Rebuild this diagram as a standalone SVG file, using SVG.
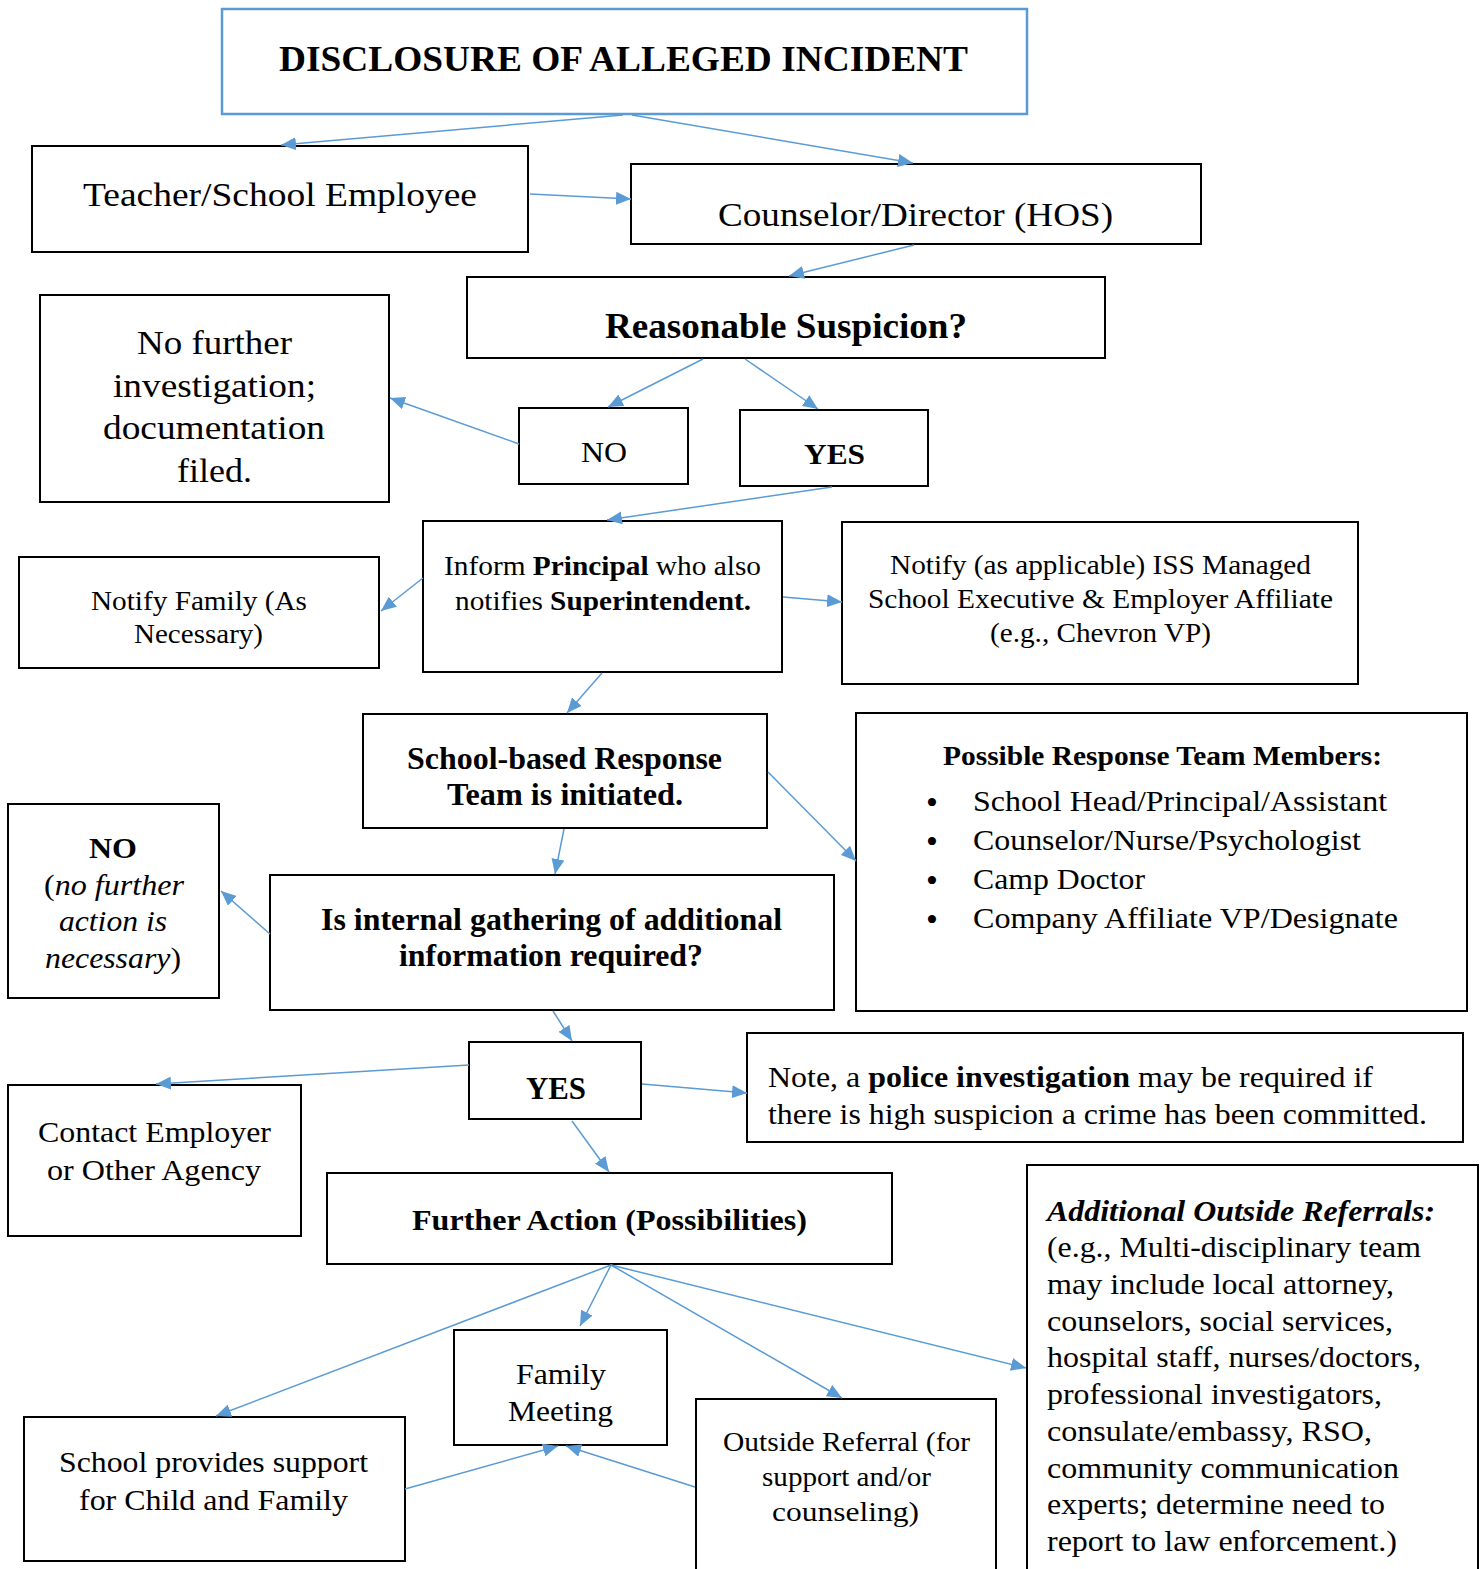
<svg xmlns="http://www.w3.org/2000/svg" width="1483" height="1569" viewBox="0 0 1483 1569" font-family="'Liberation Serif', 'Times New Roman', Tinos, serif">
<style>
.box{fill:#fff;stroke:#000;stroke-width:2}
.tb{fill:#fff;stroke:#5B9BD5;stroke-width:2.5}
text{font-family:"Liberation Serif","Times New Roman",Tinos,serif;fill:#000}
.b{font-weight:bold}
.i{font-style:italic}
.n{font-style:normal}
.bul{font-size:34px}
.c line{stroke:#5B9BD5;stroke-width:1.5;marker-end:url(#ah)}
</style>
<defs>
<marker id="ah" markerUnits="userSpaceOnUse" markerWidth="16" markerHeight="13" refX="15" refY="6.5" orient="auto">
<path d="M0,0 L15,6.5 L0,13 z" fill="#5B9BD5"/>
</marker>
</defs>
<rect width="1483" height="1569" fill="#fff"/>

<g id="n-title"><rect class="tb" x="222" y="9" width="805" height="105"/>
<text class="b" x="279" y="71" font-size="36" textLength="689" lengthAdjust="spacingAndGlyphs">DISCLOSURE OF ALLEGED INCIDENT</text></g>

<g id="n-teacher"><rect class="box" x="32" y="146" width="496" height="106"/>
<text x="83" y="206" font-size="34" textLength="394" lengthAdjust="spacingAndGlyphs">Teacher/School Employee</text></g>

<g id="n-counselor"><rect class="box" x="631" y="164" width="570" height="80"/>
<text x="718" y="226" font-size="34" textLength="395" lengthAdjust="spacingAndGlyphs">Counselor/Director (HOS)</text></g>

<g id="n-reasonable"><rect class="box" x="467" y="277" width="638" height="81"/>
<text class="b" x="605" y="338" font-size="35" textLength="362" lengthAdjust="spacingAndGlyphs">Reasonable Suspicion?</text></g>

<g id="n-nofurther"><rect class="box" x="40" y="295" width="349" height="207"/>
<text x="137" y="354" font-size="33" textLength="155" lengthAdjust="spacingAndGlyphs">No further</text>
<text x="113" y="397" font-size="33" textLength="203" lengthAdjust="spacingAndGlyphs">investigation;</text>
<text x="103" y="439" font-size="33" textLength="222" lengthAdjust="spacingAndGlyphs">documentation</text>
<text x="177" y="482" font-size="33" textLength="75" lengthAdjust="spacingAndGlyphs">filed.</text></g>

<g id="n-no1"><rect class="box" x="519" y="408" width="169" height="76"/>
<text x="581" y="462" font-size="30" textLength="46" lengthAdjust="spacingAndGlyphs">NO</text></g>

<g id="n-yes1"><rect class="box" x="740" y="410" width="188" height="76"/>
<text class="b" x="804" y="464" font-size="30" textLength="61" lengthAdjust="spacingAndGlyphs">YES</text></g>

<g id="n-inform"><rect class="box" x="423" y="521" width="359" height="151"/>
<text x="444" y="575" font-size="27" textLength="317" lengthAdjust="spacingAndGlyphs">Inform <tspan class="b">Principal</tspan> who also</text>
<text x="455" y="610" font-size="27" textLength="296" lengthAdjust="spacingAndGlyphs">notifies <tspan class="b">Superintendent.</tspan></text></g>

<g id="n-notifyfamily"><rect class="box" x="19" y="557" width="360" height="111"/>
<text x="91" y="610" font-size="27" textLength="216" lengthAdjust="spacingAndGlyphs">Notify Family (As</text>
<text x="134" y="643" font-size="27" textLength="129" lengthAdjust="spacingAndGlyphs">Necessary)</text></g>

<g id="n-iss"><rect class="box" x="842" y="522" width="516" height="162"/>
<text x="890" y="574" font-size="27" textLength="421" lengthAdjust="spacingAndGlyphs">Notify (as applicable) ISS Managed</text>
<text x="868" y="608" font-size="27" textLength="465" lengthAdjust="spacingAndGlyphs">School Executive &amp; Employer Affiliate</text>
<text x="990" y="642" font-size="27" textLength="221" lengthAdjust="spacingAndGlyphs">(e.g., Chevron VP)</text></g>

<g id="n-schoolbased"><rect class="box" x="363" y="714" width="404" height="114"/>
<text class="b" x="407" y="769" font-size="31" textLength="315" lengthAdjust="spacingAndGlyphs">School-based Response</text>
<text class="b" x="447" y="805" font-size="31" textLength="236" lengthAdjust="spacingAndGlyphs">Team is initiated.</text></g>

<g id="n-members"><rect class="box" x="856" y="713" width="611" height="298"/>
<text class="b" x="943" y="765" font-size="27" textLength="439" lengthAdjust="spacingAndGlyphs">Possible Response Team Members:</text>
<text class="bul" x="932" y="814" text-anchor="middle">•</text>
<text x="973" y="811" font-size="29" textLength="414" lengthAdjust="spacingAndGlyphs">School Head/Principal/Assistant</text>
<text class="bul" x="932" y="853" text-anchor="middle">•</text>
<text x="973" y="850" font-size="29" textLength="388" lengthAdjust="spacingAndGlyphs">Counselor/Nurse/Psychologist</text>
<text class="bul" x="932" y="892" text-anchor="middle">•</text>
<text x="973" y="889" font-size="29" textLength="172" lengthAdjust="spacingAndGlyphs">Camp Doctor</text>
<text class="bul" x="932" y="931" text-anchor="middle">•</text>
<text x="973" y="928" font-size="29" textLength="425" lengthAdjust="spacingAndGlyphs">Company Affiliate VP/Designate</text></g>

<g id="n-no2"><rect class="box" x="8" y="804" width="211" height="194"/>
<text class="b" x="89" y="858" font-size="30" textLength="48" lengthAdjust="spacingAndGlyphs">NO</text>
<text class="i" x="44" y="895" font-size="30" textLength="140" lengthAdjust="spacingAndGlyphs"><tspan class="n">(</tspan>no further</text>
<text class="i" x="59" y="931" font-size="30" textLength="108" lengthAdjust="spacingAndGlyphs">action is</text>
<text class="i" x="45" y="968" font-size="30" textLength="136" lengthAdjust="spacingAndGlyphs">necessary<tspan class="n">)</tspan></text></g>

<g id="n-internal"><rect class="box" x="270" y="875" width="564" height="135"/>
<text class="b" x="321" y="930" font-size="31" textLength="461" lengthAdjust="spacingAndGlyphs">Is internal gathering of additional</text>
<text class="b" x="399" y="966" font-size="31" textLength="304" lengthAdjust="spacingAndGlyphs">information required?</text></g>

<g id="n-yes2"><rect class="box" x="469" y="1042" width="172" height="77"/>
<text class="b" x="526" y="1099" font-size="31" textLength="60" lengthAdjust="spacingAndGlyphs">YES</text></g>

<g id="n-contact"><rect class="box" x="8" y="1085" width="293" height="151"/>
<text x="38" y="1142" font-size="29" textLength="233" lengthAdjust="spacingAndGlyphs">Contact Employer</text>
<text x="47" y="1180" font-size="29" textLength="214" lengthAdjust="spacingAndGlyphs">or Other Agency</text></g>

<g id="n-note"><rect class="box" x="747" y="1033" width="716" height="109"/>
<text x="768" y="1087" font-size="29" textLength="605" lengthAdjust="spacingAndGlyphs">Note, a <tspan class="b">police investigation</tspan> may be required if</text>
<text x="768" y="1124" font-size="29" textLength="659" lengthAdjust="spacingAndGlyphs">there is high suspicion a crime has been committed.</text></g>

<g id="n-further"><rect class="box" x="327" y="1173" width="565" height="91"/>
<text class="b" x="412" y="1230" font-size="29" textLength="395" lengthAdjust="spacingAndGlyphs">Further Action (Possibilities)</text></g>

<g id="n-additional"><rect class="box" x="1027" y="1165" width="451" height="420"/>
<text class="b i" x="1047" y="1221" font-size="29" textLength="388" lengthAdjust="spacingAndGlyphs">Additional Outside Referrals:</text>
<text x="1047" y="1257" font-size="29" textLength="374" lengthAdjust="spacingAndGlyphs">(e.g., Multi-disciplinary team</text>
<text x="1047" y="1294" font-size="29" textLength="347" lengthAdjust="spacingAndGlyphs">may include local attorney,</text>
<text x="1047" y="1331" font-size="29" textLength="346" lengthAdjust="spacingAndGlyphs">counselors, social services,</text>
<text x="1047" y="1367" font-size="29" textLength="374" lengthAdjust="spacingAndGlyphs">hospital staff, nurses/doctors,</text>
<text x="1047" y="1404" font-size="29" textLength="335" lengthAdjust="spacingAndGlyphs">professional investigators,</text>
<text x="1047" y="1441" font-size="29" textLength="325" lengthAdjust="spacingAndGlyphs">consulate/embassy, RSO,</text>
<text x="1047" y="1478" font-size="29" textLength="352" lengthAdjust="spacingAndGlyphs">community communication</text>
<text x="1047" y="1514" font-size="29" textLength="338" lengthAdjust="spacingAndGlyphs">experts; determine need to</text>
<text x="1047" y="1551" font-size="29" textLength="350" lengthAdjust="spacingAndGlyphs">report to law enforcement.)</text></g>

<g id="n-familymeeting"><rect class="box" x="454" y="1330" width="213" height="115"/>
<text x="516" y="1384" font-size="29" textLength="90" lengthAdjust="spacingAndGlyphs">Family</text>
<text x="508" y="1421" font-size="29" textLength="105" lengthAdjust="spacingAndGlyphs">Meeting</text></g>

<g id="n-schoolprovides"><rect class="box" x="24" y="1417" width="381" height="144"/>
<text x="59" y="1472" font-size="29" textLength="309" lengthAdjust="spacingAndGlyphs">School provides support</text>
<text x="79" y="1510" font-size="29" textLength="269" lengthAdjust="spacingAndGlyphs">for Child and Family</text></g>

<g id="n-outside"><rect class="box" x="696" y="1399" width="300" height="200"/>
<text x="723" y="1451" font-size="27" textLength="247" lengthAdjust="spacingAndGlyphs">Outside Referral (for</text>
<text x="762" y="1486" font-size="27" textLength="169" lengthAdjust="spacingAndGlyphs">support and/or</text>
<text x="772" y="1521" font-size="27" textLength="147" lengthAdjust="spacingAndGlyphs">counseling)</text></g>

<g id="connectors" class="c">
<line x1="623" y1="115" x2="281" y2="145"/>
<line x1="632" y1="115" x2="913" y2="163"/>
<line x1="530" y1="194" x2="631" y2="199"/>
<line x1="914" y1="245" x2="789" y2="276"/>
<line x1="703" y1="359" x2="608" y2="407"/>
<line x1="745" y1="359" x2="818" y2="409"/>
<line x1="519" y1="444" x2="390" y2="398"/>
<line x1="832" y1="487" x2="607" y2="520"/>
<line x1="423" y1="578" x2="381" y2="611"/>
<line x1="783" y1="597" x2="842" y2="602"/>
<line x1="602" y1="673" x2="567" y2="713"/>
<line x1="768" y1="772" x2="856" y2="861"/>
<line x1="564" y1="829" x2="555" y2="874"/>
<line x1="270" y1="934" x2="221" y2="891"/>
<line x1="553" y1="1011" x2="572" y2="1041"/>
<line x1="469" y1="1065" x2="156" y2="1084"/>
<line x1="642" y1="1084" x2="747" y2="1093"/>
<line x1="572" y1="1121" x2="609" y2="1172"/>
<line x1="611" y1="1265" x2="216" y2="1416"/>
<line x1="611" y1="1265" x2="580" y2="1326"/>
<line x1="611" y1="1265" x2="842" y2="1398"/>
<line x1="611" y1="1265" x2="1026" y2="1368"/>
<line x1="405" y1="1489" x2="558" y2="1446"/>
<line x1="695" y1="1487" x2="566" y2="1446"/>
</g>
</svg>
